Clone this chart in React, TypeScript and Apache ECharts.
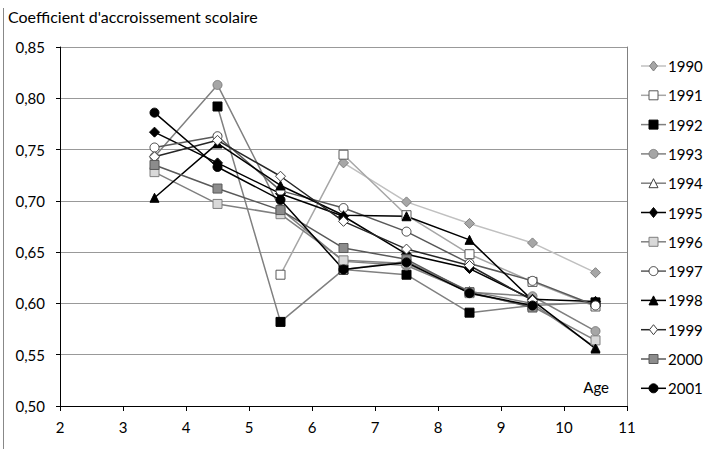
import React, { useEffect, useRef } from "react";
import * as echarts from "echarts";

const ages = [3.5, 4.5, 5.5, 6.5, 7.5, 8.5, 9.5, 10.5];
const years = ["1990", "1991", "1992", "1993", "1994", "1995", "1996", "1997", "1998", "1999", "2000", "2001"];
const yTicks = [0.5, 0.55, 0.6, 0.65, 0.7, 0.75, 0.8, 0.85];

const s1990 = [null, null, null, 0.737, 0.699, 0.678, 0.659, 0.63];
const s1991 = [null, null, 0.628, 0.745, 0.686, 0.648, 0.621, 0.597];
const s1992 = [null, 0.792, 0.582, 0.633, 0.628, 0.591, 0.598, 0.601];
const s1993 = [0.743, 0.813, 0.692, 0.641, 0.637, 0.611, 0.607, 0.573];
const s1994 = [null, null, null, 0.633, 0.641, 0.612, 0.6, 0.557];
const s1995 = [0.767, 0.737, 0.707, 0.685, 0.648, 0.634, 0.604, 0.602];
const s1996 = [0.728, 0.697, 0.687, 0.642, 0.639, 0.61, 0.597, 0.564];
const s1997 = [0.752, 0.763, 0.71, 0.693, 0.67, 0.639, 0.622, 0.598];
const s1998 = [0.703, 0.756, 0.715, 0.686, 0.685, 0.662, 0.603, 0.556];
const s1999 = [0.743, 0.759, 0.724, 0.68, 0.653, 0.637, 0.603, null];
const s2000 = [0.735, 0.712, 0.691, 0.654, 0.643, 0.611, 0.596, null];
const s2001 = [0.786, 0.733, 0.701, 0.633, 0.64, 0.61, 0.598, null];

const values = [s1990, s1991, s1992, s1993, s1994, s1995, s1996, s1997, s1998, s1999, s2000, s2001];

type Sty = { line: string; fill: string; border: string; symbol: string; size: number };
const styles: Sty[] = [
  { line: "#c0c0c0", fill: "#a6a6a6", border: "#7f7f7f", symbol: "diamond", size: 10 },
  { line: "#a6a6a6", fill: "#ffffff", border: "#595959", symbol: "rect", size: 9 },
  { line: "#808080", fill: "#000000", border: "#000000", symbol: "rect", size: 9 },
  { line: "#808080", fill: "#a6a6a6", border: "#7f7f7f", symbol: "circle", size: 9 },
  { line: "#7f7f7f", fill: "#ffffff", border: "#404040", symbol: "triangle", size: 9 },
  { line: "#000000", fill: "#000000", border: "#000000", symbol: "diamond", size: 10 },
  { line: "#808080", fill: "#d9d9d9", border: "#7f7f7f", symbol: "rect", size: 9 },
  { line: "#595959", fill: "#ffffff", border: "#404040", symbol: "circle", size: 9 },
  { line: "#000000", fill: "#000000", border: "#000000", symbol: "triangle", size: 9 },
  { line: "#262626", fill: "#ffffff", border: "#404040", symbol: "diamond", size: 10 },
  { line: "#595959", fill: "#8c8c8c", border: "#595959", symbol: "rect", size: 9 },
  { line: "#000000", fill: "#000000", border: "#000000", symbol: "circle", size: 9 },
];

const FONT = "Lato";

function legendMarker(s: Sty, cx: number, cy: number) {
  const h = s.size / 2;
  const style = { fill: s.fill, stroke: s.border, lineWidth: 1 };
  if (s.symbol === "circle") return { type: "circle", shape: { cx, cy, r: h }, style };
  if (s.symbol === "rect") return { type: "rect", shape: { x: cx - h, y: cy - h, width: s.size, height: s.size }, style };
  if (s.symbol === "diamond")
    return { type: "polygon", shape: { points: [[cx, cy - h], [cx + h * 0.8, cy], [cx, cy + h], [cx - h * 0.8, cy]] }, style };
  return { type: "polygon", shape: { points: [[cx, cy - h], [cx + h, cy + h], [cx - h, cy + h]] }, style };
}

export default function App() {
  const ref = useRef<HTMLDivElement>(null);
  useEffect(() => {
    if (!ref.current) return;
    const chart = echarts.init(ref.current, undefined, { renderer: "svg" });
    const series = years.map((y, i) => ({
      name: y,
      type: "line",
      data: ages.map((a, j) => [a, values[i][j]]),
      symbol: styles[i].symbol,
      symbolSize: styles[i].size,
      showAllSymbol: true,
      connectNulls: false,
      lineStyle: { color: styles[i].line, width: 1.5 },
      itemStyle: { color: styles[i].fill, borderColor: styles[i].border, borderWidth: 1 },
      emphasis: { disabled: true },
    }));
    const legendItems: any[] = [];
    years.forEach((y, i) => {
      const cy = 66 + i * 29.3;
      legendItems.push({ type: "line", shape: { x1: 641, y1: cy, x2: 666, y2: cy }, style: { stroke: styles[i].line, lineWidth: 1.5 } });
      legendItems.push(legendMarker(styles[i], 653.5, cy));
      legendItems.push({
        type: "text",
        x: 668,
        y: cy,
        style: { text: y, fontSize: 15, fontFamily: FONT, fill: "#000", verticalAlign: "middle", align: "left" },
      });
    });
    chart.setOption({
      animation: false,
      backgroundColor: "#ffffff",
      textStyle: { fontFamily: FONT },
      grid: { left: 60, top: 47, width: 567, height: 359, show: false },
      xAxis: {
        type: "value",
        min: 2,
        max: 11,
        interval: 1,
        axisLine: { show: true, lineStyle: { color: "#000", width: 1 } },
        axisTick: { show: true, length: 5, lineStyle: { color: "#000" } },
        axisLabel: { color: "#000", fontSize: 15, fontFamily: FONT, margin: 13 },
        splitLine: { show: false },
      },
      yAxis: [
        {
          type: "value",
          min: 0.5,
          max: 0.85,
          interval: 0.05,
          axisLine: { show: true, lineStyle: { color: "#000", width: 1 } },
          axisTick: { show: true, length: 4, lineStyle: { color: "#000" } },
          axisLabel: {
            color: "#000",
            fontSize: 15,
            fontFamily: FONT,
            margin: 15,
            formatter: (v: number) => {
              const t = yTicks.find((k) => Math.abs(k - v) < 1e-6);
              return (t !== undefined ? t : v).toFixed(2).replace(".", ",");
            },
          },
          splitLine: { show: true, lineStyle: { color: "#999999", width: 1 } },
        },
        {
          type: "value",
          position: "right",
          min: 0.5,
          max: 0.85,
          interval: 0.05,
          axisLine: { show: true, onZero: false, lineStyle: { color: "#808080", width: 1 } },
          axisTick: { show: false },
          axisLabel: { show: false },
          splitLine: { show: false },
        },
      ],
      graphic: [
        { type: "line", shape: { x1: 3.5, y1: 8, x2: 3.5, y2: 449 }, style: { stroke: "#888888", lineWidth: 1 } },
        { type: "text", left: 8, top: 8, style: { text: "Coefficient d'accroissement scolaire", fontSize: 16, fontFamily: FONT, fill: "#000" } },
        { type: "text", right: 107, top: 379, style: { text: "Age", fontSize: 15, fontFamily: FONT, fill: "#000" } },
        ...legendItems,
      ],
      series,
    });
    return () => chart.dispose();
  }, []);
  return <div ref={ref} style={{ position: "fixed", left: 0, top: 0, width: 716, height: 449 }} />;
}
